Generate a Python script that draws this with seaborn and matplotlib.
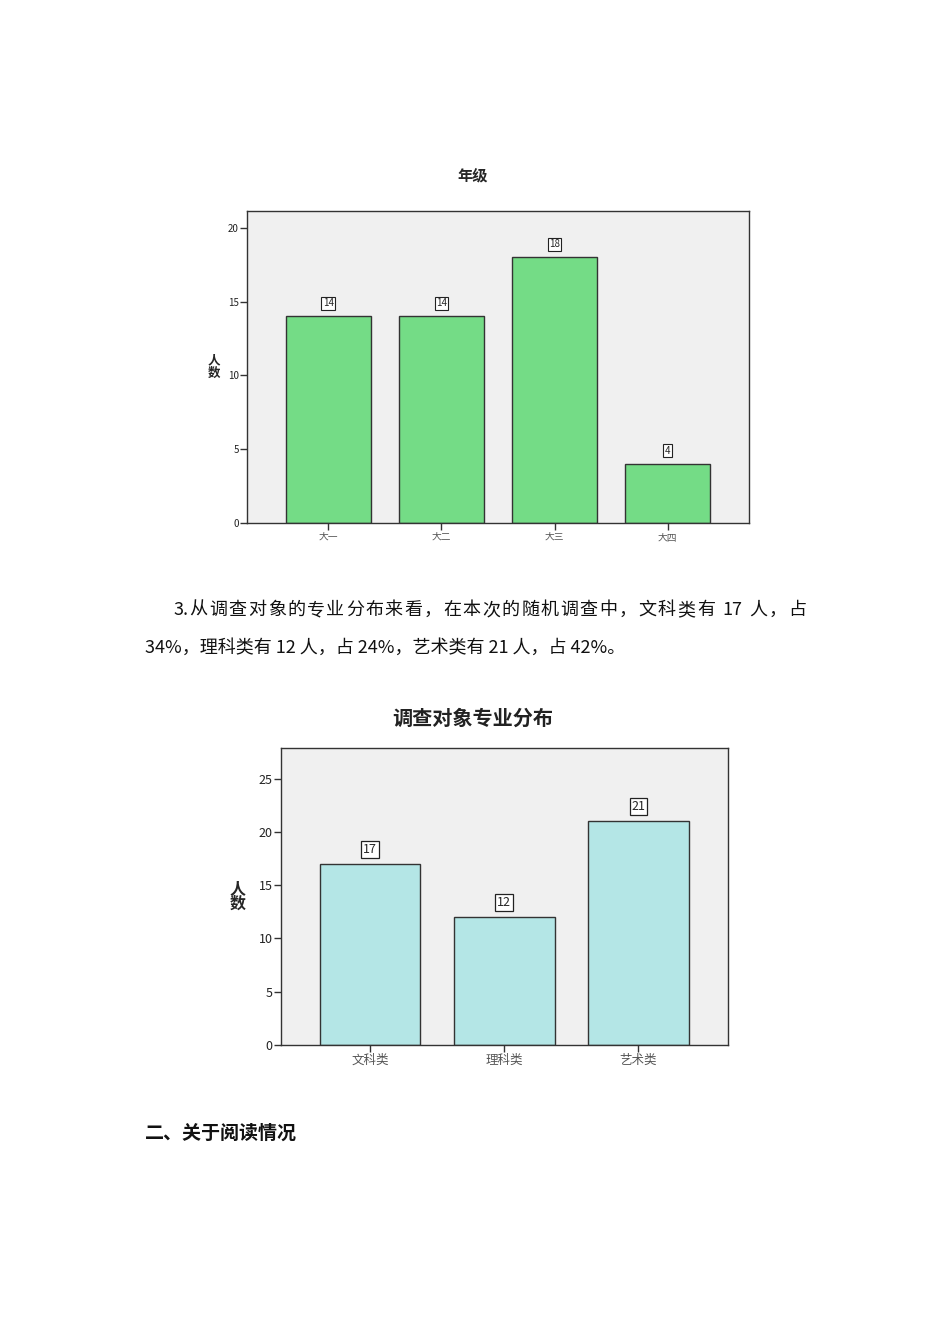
import matplotlib
matplotlib.use("Agg")
import matplotlib.pyplot as plt
import seaborn as sns
import pandas as pd
import re

sns.set_style("white")
plt.rcParams['font.family'] = ['Noto Sans CJK SC', 'DejaVu Sans']

# Data
grade_labels = ["大一", "大二", "大三", "大四"]
grade_counts = [14, 14, 18, 4]

major_labels = ["文科类", "理科类", "艺术类"]
major_counts = [17, 12, 21]

para_line1 = "3.从调查对象的专业分布来看，在本次的随机调查中，文科类有 17 人，占"
para_line2 = "34%，理科类有 12 人，占 24%，艺术类有 21 人，占 42%。"
heading = "二、关于阅读情况"

W, H = 950, 1344
fig = plt.figure(figsize=(W / 100, H / 100), dpi=100)
fig.patch.set_facecolor("white")


def style_axes(ax, ylim, xlim, yticks, ytick_size, xtick_size, ylabel_size, ylabel_x):
    ax.set_facecolor("#F0F0F0")
    ax.set_ylim(*ylim)
    ax.set_xlim(*xlim)
    ax.set_yticks(yticks)
    for s in ax.spines.values():
        s.set_visible(True)
        s.set_color("#333333")
        s.set_linewidth(1.0)
    ax.tick_params(axis="y", direction="out", length=5, width=1, color="#333333",
                   labelsize=ytick_size, labelcolor="#222222", pad=1, left=True)
    ax.tick_params(axis="x", direction="out", length=5, width=1, color="#333333",
                   labelsize=xtick_size, labelcolor="#555555", pad=1.5, bottom=True)
    ax.set_xlabel("")
    ax.set_ylabel("人\n数", rotation=0, fontweight="bold", fontsize=ylabel_size,
                  linespacing=0.95, va="center", ha="center")
    ax.yaxis.set_label_coords(ylabel_x, 0.5)


# Chart 1: 年级
df1 = pd.DataFrame({"年级": grade_labels, "人数": grade_counts})
ax1 = fig.add_axes([0.26, 0.6109, 0.5284, 0.2321])
sns.barplot(data=df1, x="年级", y="人数", color="#74DC86", saturation=1,
            width=0.75, edgecolor="#333333", linewidth=1.0, ax=ax1)
style_axes(ax1, (0, 21.15), (-0.72, 3.72), [0, 5, 10, 15, 20], 7, 7, 9, -0.066)
ax1.bar_label(ax1.containers[0], padding=6, fontsize=7,
              bbox=dict(boxstyle="square,pad=0.15", fc="white", ec="#222222", lw=0.8))
fig.text(0.498, 1 - 175 / H, "年级", ha="center", va="center", fontsize=11, fontweight="bold")

# Chart 2: 调查对象专业分布
df2 = pd.DataFrame({"专业": major_labels, "人数": major_counts})
ax2 = fig.add_axes([0.2958, 0.2225, 0.4705, 0.2210])
sns.barplot(data=df2, x="专业", y="人数", color="#B4E6E6", saturation=1,
            width=0.75, edgecolor="#333333", linewidth=1.0, ax=ax2)
style_axes(ax2, (0, 27.9), (-0.664, 2.668), [0, 5, 10, 15, 20, 25], 9, 9, 11.5, -0.098)
ax2.bar_label(ax2.containers[0], padding=6, fontsize=9,
              bbox=dict(boxstyle="square,pad=0.15", fc="white", ec="#222222", lw=0.9))
fig.text(0.498, 1 - 718 / H, "调查对象专业分布", ha="center", va="center",
         fontsize=14.5, fontweight="bold", color="#222222")

# Document text: first line is justified between indent and right margin,
# ascii runs (like "3." or "17") are kept together
renderer = fig.canvas.get_renderer()
x_start, x_end = 173, 806
tokens = re.findall(r"[A-Za-z0-9.%]+|\s|.", para_line1)
widths = []
for tok in tokens:
    t = fig.text(0, 0, tok.replace(" ", "\u00a0"), fontsize=13)
    widths.append(t.get_window_extent(renderer).width if tok != " " else 4.0)
    t.remove()
gap = (x_end - x_start - sum(widths)) / (len(tokens) - 1)
x = x_start
for tok, w in zip(tokens, widths):
    if tok != " ":
        fig.text(x / W, 1 - 610 / H, tok, ha="left", va="center", fontsize=13, color="#111111")
    x += w + gap

fig.text(145 / W, 1 - 648 / H, para_line2, ha="left", va="center", fontsize=13, color="#111111")
fig.text(145 / W, 1 - 1133 / H, heading, ha="left", va="center", fontsize=13.7,
         fontweight="bold", color="#111111")

fig.savefig("out.png", dpi=100)
